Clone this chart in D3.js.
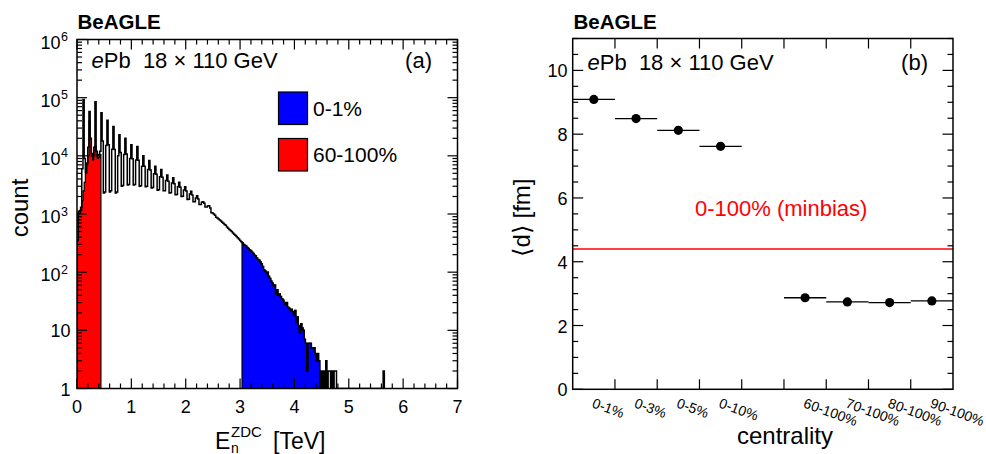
<!DOCTYPE html>
<html>
<head>
<meta charset="utf-8">
<script src="https://cdn.jsdelivr.net/npm/d3@7"></script>
<style>
  body { margin: 0; background: #fff; }
  svg text { font-family: "Liberation Sans", Arial, Helvetica, sans-serif; fill: #000; }
</style>
</head>
<body>
<svg id="chart" width="986" height="454"></svg>
<script>
// ---------- panel (a): ZDC neutron energy spectrum ----------
const binWidthTeV = 0.022;
// counts per bin, all events (bin i spans [i*w, (i+1)*w) TeV)
const allCounts = [
  350, 1100, 1150, 1300, 6000,
  93000, 9000, 5200, 7500, 14000,
  58000, 20000, 11000, 10000, 14000,
  85000, 12000, 10000, 10500, 12000,
  55000, 18000, 2300, 2400, 15000,
  41000, 15500, 2400, 2500, 13000,
  32000, 12800, 2300, 2400, 10000,
  23000, 11400, 3000, 3100, 10500,
  20000, 10700, 3150, 3200, 9000,
  15500, 8900, 3150, 3200, 8500,
  14500, 8400, 3000, 3050, 6600,
  10000, 6600, 2950, 3000, 5800,
  8300, 5700, 2800, 2850, 4900,
  6600, 4800, 2570, 2600, 4350,
  5800, 4300, 2500, 2520, 3780,
  4700, 3650, 2300, 2320, 3400,
  4200, 3300, 2150, 2170, 2940,
  3500, 2870, 2000, 2010, 2580,
  2950, 2480, 1780, 1790, 2200,
  2450, 2130, 1620, 1630, 1880,
  2050, 1810, 1450, 1460, 1590,
  1620, 1530, 1320, 1320, 1370,
  1380, 1270, 1050, 1040, 1000,
  950, 880, 850, 820, 790,
  760, 720, 690, 660, 640,
  600, 570, 540, 520, 500,
  470, 450, 430, 410, 390,
  370, 350, 335, 320, 300,
  290, 280, 265, 255, 240,
  235, 220, 210, 195, 190,
  175, 165, 160, 150, 140,
  125, 110, 105, 95, 100,
  85, 78, 70, 65, 58,
  60, 42, 50, 40, 42,
  38, 35, 33, 30, 28,
  30, 25, 24, 22, 23,
  21, 18, 22, 14, 17,
  12, 9, 13, 11, 10,
  7, 6, 2, 6, 6,
  6, 5, 5, 5, 4,
  3, 4, 3, 0, 2,
  0, 2, 0, 3, 0,
  2, 2, 0, 2, 0,
  2, 2, 0, 0, 0,
  0, 0, 0, 0, 0,
  0, 0, 0, 0, 0,
  0, 0, 0, 0, 0,
  0, 0, 0, 0, 0,
  0, 0, 0, 0, 0,
  0, 0, 0, 0, 0,
  0, 0, 0, 0, 0,
  0, 2
];
// 60-100% centrality class (lowest-energy bins)
const peripheralCounts = [
  350, 1000, 1050, 1150, 1700,
  2500, 3500, 5000, 7000, 10000,
  40000, 19000, 9800, 8500, 12600,
  14500, 10000, 9000, 9500, 10500
];
// 0-1% centrality class: energy window of the selected bins
const centralRangeTeV = [3.03, 4.47];

const xTicksA = [0, 1, 2, 3, 4, 5, 6, 7];
const yDecadesA = [0, 1, 2, 3, 4, 5, 6];   // exponents of ten
const legendA = [
  { label: "0-1%", color: "#0000ff" },
  { label: "60-100%", color: "#ff0000" }
];

// ---------- panel (b): mean distance vs centrality ----------
const centralityLabels = ["0-1%", "0-3%", "0-5%", "0-10%", "", "60-100%", "70-100%", "80-100%", "90-100%"];
const meanDistanceFm = [9.09, 8.49, 8.12, 7.62, null, 2.87, 2.74, 2.72, 2.77];
const minbiasDistanceFm = 4.40;
const yTicksB = [0, 2, 4, 6, 8, 10];

const svg = d3.select("#chart");

// ======================= panel (a) =======================
const A = { left: 77, right: 457.5, top: 39.5, bottom: 388.5 };
const xA = d3.scaleLinear().domain([0, 7]).range([A.left, A.right]);
const yA = d3.scaleLog().domain([1, 1e6]).range([A.bottom, A.top]);

svg.append("clipPath").attr("id", "clipA")
  .append("rect").attr("x", A.left).attr("y", A.top)
  .attr("width", A.right - A.left).attr("height", A.bottom - A.top);

function histPath(counts, first, last) {
  const p = d3.path();
  p.moveTo(xA(first * binWidthTeV), yA(1));
  for (let i = first; i <= last; i++) {
    const yv = yA(Math.max(counts[i] || 0, 1));
    p.lineTo(xA(i * binWidthTeV), yv);
    p.lineTo(xA((i + 1) * binWidthTeV), yv);
  }
  p.lineTo(xA((last + 1) * binWidthTeV), yA(1));
  return p.toString();
}

const gHist = svg.append("g").attr("clip-path", "url(#clipA)");

// 60-100% (red)
gHist.append("path")
  .attr("d", histPath(peripheralCounts, 0, peripheralCounts.length - 1))
  .attr("fill", legendA[1].color).attr("stroke", "#000").attr("stroke-width", 1.2);

// 0-1% (blue): bins inside the energy window
const centralIdx = d3.range(allCounts.length)
  .filter(i => i * binWidthTeV >= centralRangeTeV[0] && i * binWidthTeV < centralRangeTeV[1]);
gHist.append("path")
  .attr("d", histPath(allCounts, centralIdx[0], centralIdx[centralIdx.length - 1]))
  .attr("fill", legendA[0].color).attr("stroke", "#000").attr("stroke-width", 1.2);

// all events (black outline)
gHist.append("path")
  .attr("d", histPath(allCounts, 0, allCounts.length - 1))
  .attr("fill", "none").attr("stroke", "#000").attr("stroke-width", 1.5)
  .attr("stroke-linejoin", "miter");

// frame
svg.append("rect").attr("x", A.left).attr("y", A.top)
  .attr("width", A.right - A.left).attr("height", A.bottom - A.top)
  .attr("fill", "none").attr("stroke", "#000").attr("stroke-width", 1.5);

// x ticks (major every 1 TeV, minor every 0.2 TeV), bottom and top
const xMinorA = d3.range(0, 35).map(k => k * 0.2).filter(v => Math.abs(v - Math.round(v)) > 1e-6);
const tickA = svg.append("g").attr("stroke", "#000").attr("stroke-width", 1.2);
function vTicks(g, vals, scale, len) {
  vals.forEach(v => {
    const x = scale(v);
    g.append("line").attr("x1", x).attr("x2", x).attr("y1", A.bottom).attr("y2", A.bottom - len);
    g.append("line").attr("x1", x).attr("x2", x).attr("y1", A.top).attr("y2", A.top + len);
  });
}
vTicks(tickA, xTicksA, xA, 10);
vTicks(tickA, xMinorA, xA, 5);

// y ticks (log), left and right
const yMinorA = [];
yDecadesA.slice(0, -1).forEach(e => { for (let m = 2; m <= 9; m++) yMinorA.push(m * Math.pow(10, e)); });
function hTicksA(vals, len) {
  vals.forEach(v => {
    const y = yA(v);
    tickA.append("line").attr("x1", A.left).attr("x2", A.left + len).attr("y1", y).attr("y2", y);
    tickA.append("line").attr("x1", A.right).attr("x2", A.right - len).attr("y1", y).attr("y2", y);
  });
}
hTicksA(yDecadesA.map(e => Math.pow(10, e)), 10);
hTicksA(yMinorA, 5);

// x tick labels
svg.append("g").selectAll("text").data(xTicksA).join("text")
  .attr("x", d => xA(d)).attr("y", 413).attr("text-anchor", "middle")
  .attr("font-size", 18).text(d => d);

// y tick labels: 1, 10, then powers of ten
const yLab = svg.append("g");
yDecadesA.forEach(e => {
  const y = yA(Math.pow(10, e));
  if (e === 0 || e === 1) {
    yLab.append("text").attr("x", 70.5).attr("y", y + 7).attr("text-anchor", "end")
      .attr("font-size", 18).text(e === 0 ? "1" : "10");
  } else {
    yLab.append("text").attr("x", 60.5).attr("y", y + 9).attr("text-anchor", "end")
      .attr("font-size", 18).text("10");
    yLab.append("text").attr("x", 61).attr("y", y + 1.5).attr("text-anchor", "start")
      .attr("font-size", 12.5).text(e);
  }
});

// axis titles
svg.append("text").attr("transform", "translate(28,208) rotate(-90)")
  .attr("text-anchor", "middle").attr("font-size", 24).text("count");
svg.append("text").attr("x", 215).attr("y", 449).attr("font-size", 23).text("E");
svg.append("text").attr("x", 231).attr("y", 436.5).attr("font-size", 15).text("ZDC");
svg.append("text").attr("x", 231).attr("y", 452.5).attr("font-size", 14).text("n");
svg.append("text").attr("x", 273).attr("y", 449).attr("font-size", 23).text("[TeV]");

// header texts
svg.append("text").attr("x", 77.5).attr("y", 29.3).attr("font-size", 20.5)
  .attr("font-weight", "bold").text("BeAGLE");
const hdrA = svg.append("text").attr("x", 91.5).attr("y", 68.3).attr("font-size", 22);
hdrA.append("tspan").attr("font-style", "italic").text("e");
hdrA.append("tspan").text("Pb\u00a0\u00a018 \u00d7 110 GeV");
svg.append("text").attr("x", 432).attr("y", 68.3).attr("text-anchor", "end")
  .attr("font-size", 22).text("(a)");

// legend
const lg = svg.append("g").selectAll("g").data(legendA).join("g")
  .attr("transform", (d, i) => `translate(278.5,${92 + i * 46.5})`);
lg.append("rect").attr("width", 29).attr("height", 32.5)
  .attr("fill", d => d.color).attr("stroke", "#000").attr("stroke-width", 1.2);
lg.append("text").attr("x", 34.5).attr("y", 23.7).attr("font-size", 21).text(d => d.label);

// ======================= panel (b) =======================
const B = { left: 572.7, right: 953, top: 38.5, bottom: 389.3 };
const xB = d3.scaleLinear().domain([0, centralityLabels.length]).range([B.left, B.right]);
const yB = d3.scaleLinear().domain([0, 11]).range([B.bottom, B.top]);

// minimum-bias reference line
svg.append("line").attr("x1", B.left).attr("x2", B.right)
  .attr("y1", yB(minbiasDistanceFm)).attr("y2", yB(minbiasDistanceFm))
  .attr("stroke", "#ff0000").attr("stroke-width", 1.5);
svg.append("text").attr("x", 695).attr("y", 215.5).attr("font-size", 22)
  .style("fill", "#ff0000").text("0-100% (minbias)");

// frame
svg.append("rect").attr("x", B.left).attr("y", B.top)
  .attr("width", B.right - B.left).attr("height", B.bottom - B.top)
  .attr("fill", "none").attr("stroke", "#000").attr("stroke-width", 1.5);

const tickB = svg.append("g").attr("stroke", "#000").attr("stroke-width", 1.2);
d3.range(1, centralityLabels.length).forEach(i => {
  const x = xB(i);
  tickB.append("line").attr("x1", x).attr("x2", x).attr("y1", B.bottom).attr("y2", B.bottom - 10);
  tickB.append("line").attr("x1", x).attr("x2", x).attr("y1", B.top).attr("y2", B.top + 10);
});
d3.range(0, 11.01, 0.5).forEach(v => {
  const y = yB(v);
  const len = (v % 2 === 0) ? 10.5 : 5.5;
  tickB.append("line").attr("x1", B.left).attr("x2", B.left + len).attr("y1", y).attr("y2", y);
  tickB.append("line").attr("x1", B.right).attr("x2", B.right - len).attr("y1", y).attr("y2", y);
});

svg.append("g").selectAll("text").data(yTicksB).join("text")
  .attr("x", 567.5).attr("y", d => yB(d) + 7).attr("text-anchor", "end")
  .attr("font-size", 18).text(d => d);

// rotated category labels
svg.append("g").selectAll("text").data(centralityLabels).join("text")
  .attr("transform", (d, i) => `translate(${xB(i + 0.5) - 2.5},407) rotate(20)`)
  .attr("font-size", 14).text(d => d);

// points with horizontal bin-width bars
const pts = meanDistanceFm.map((v, i) => ({ i, v })).filter(d => d.v !== null);
const gp = svg.append("g");
gp.selectAll("line").data(pts).join("line")
  .attr("x1", d => xB(d.i)).attr("x2", d => xB(d.i + 1))
  .attr("y1", d => yB(d.v)).attr("y2", d => yB(d.v))
  .attr("stroke", "#000").attr("stroke-width", 1.3);
gp.selectAll("circle").data(pts).join("circle")
  .attr("cx", d => xB(d.i + 0.5)).attr("cy", d => yB(d.v)).attr("r", 4.6).attr("fill", "#000");

// titles and header
svg.append("text").attr("transform", "translate(530,217.5) rotate(-90)")
  .attr("text-anchor", "middle").attr("font-size", 24).text("\u27e8d\u27e9 [fm]");
svg.append("text").attr("x", 785).attr("y", 444).attr("text-anchor", "middle")
  .attr("font-size", 24).text("centrality");
svg.append("text").attr("x", 573.5).attr("y", 29.3).attr("font-size", 20.5)
  .attr("font-weight", "bold").text("BeAGLE");
const hdrB = svg.append("text").attr("x", 587.5).attr("y", 70).attr("font-size", 22);
hdrB.append("tspan").attr("font-style", "italic").text("e");
hdrB.append("tspan").text("Pb\u00a0\u00a018 \u00d7 110 GeV");
svg.append("text").attr("x", 928).attr("y", 70).attr("text-anchor", "end")
  .attr("font-size", 22).text("(b)");
</script>
</body>
</html>
